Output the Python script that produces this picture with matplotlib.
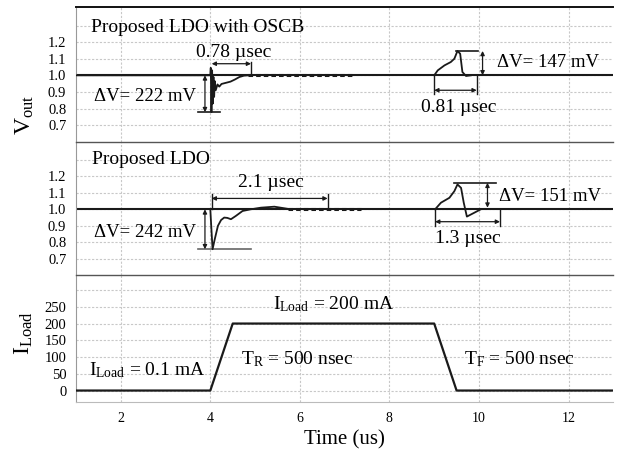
import matplotlib
matplotlib.use('Agg')
import matplotlib.pyplot as plt

plt.rcParams['font.family'] = 'Liberation Serif'
plt.rcParams['mathtext.fontset'] = 'custom'
plt.rcParams['mathtext.rm'] = 'Liberation Serif'
plt.rcParams['mathtext.it'] = 'Liberation Serif:italic'

# ---- data ----
v_nom = 1.0
t_range = (1.0, 13.0)

# proposed LDO with OSCB, load step up (t = 4 us)
oscb_up_t = [1.0, 4.0, 4.01, 4.025, 4.04, 4.055, 4.07, 4.085, 4.10, 4.12, 4.16,
             4.2, 4.25, 4.35, 4.45, 4.55, 4.65, 4.75, 4.85]
oscb_up_v = [1.0, 1.0, 1.045, 0.778, 1.03, 0.83, 0.99, 0.87, 0.965, 0.91, 0.945,
             0.932, 0.948, 0.955, 0.962, 0.975, 0.99, 0.998, 1.0]
oscb_settle_t = [4.85, 7.2]
# load step down (t = 9 us)
oscb_dn_t = [9.0, 9.08, 9.23, 9.37, 9.45, 9.52, 9.58, 9.63, 9.71, 9.82]
oscb_dn_v = [1.0, 1.03, 1.06, 1.08, 1.10, 1.147, 1.13, 1.02, 0.996, 1.0]

# proposed LDO, load step up
ldo_up_t = [4.0, 4.02, 4.05, 4.1, 4.17, 4.24, 4.31, 4.38, 4.46, 4.57, 4.72,
            4.9, 5.13, 5.43, 5.73]
ldo_up_v = [1.0, 0.90, 0.758, 0.82, 0.90, 0.935, 0.95, 0.948, 0.94, 0.96, 0.99,
            1.0, 1.01, 1.016, 1.003]
ldo_settle_t = [5.73, 7.37]
ldo_dn_t = [9.02, 9.15, 9.34, 9.45, 9.52, 9.6, 9.66, 9.73, 9.9, 10.04]
ldo_dn_v = [1.0, 1.04, 1.07, 1.11, 1.151, 1.13, 1.04, 0.956, 0.98, 1.0]

# load current
iload_t = [1.0, 4.0, 4.5, 9.0, 9.5, 13.0]
iload_ma = [0.1, 0.1, 200, 200, 0.1, 0.1]

dv_oscb_up = 0.222
dv_oscb_dn = 0.147
dv_ldo_up = 0.242
dv_ldo_dn = 0.151

v_ticks = [0.7, 0.8, 0.9, 1.0, 1.1, 1.2]
v_grid = [0.7, 0.8, 0.9, 1.0, 1.1, 1.2, 1.3]
i_ticks = [0, 50, 100, 150, 200, 250]
i_grid = [0, 50, 100, 150, 200, 250, 300]
t_ticks = [2, 4, 6, 8, 10, 12]

# ---- figure ----
W, H = 620, 457
fig = plt.figure(figsize=(W / 100, H / 100), dpi=100)


def px_axes(top, bottom, left=76, right=613.3):
    return fig.add_axes([left / W, 1 - bottom / H, (right - left) / W, (bottom - top) / H])


ax1 = px_axes(7.3, 141.7)
ax2 = px_axes(141.7, 275.3)
ax3 = px_axes(275.3, 402.3)

line_c = '#1a1a1a'
grid_c = '#c8c8c8'
fs = 14      # annotation text
fs_dv = 13.5
arr = dict(arrowstyle='<|-|>', mutation_scale=6, lw=0.9, color=line_c,
           shrinkA=0, shrinkB=0)

for ax in (ax1, ax2, ax3):
    ax.set_xlim(*t_range)
    ax.set_xticks(t_ticks)
    ax.tick_params(length=0, labelsize=10.5, pad=7)
    ax.tick_params(axis='x', labelsize=10)
    for t in t_ticks:
        ax.axvline(t, color=grid_c, lw=0.8, ls=(0, (2, 1.5)), zorder=0)
    ax.spines['right'].set_visible(False)
    ax.spines['left'].set_color('#999999')
    ax.spines['bottom'].set_visible(False)
    ax.spines['top'].set_color('#555555')
    ax.spines['top'].set_linewidth(1.0)
ax1.spines['top'].set_color('#111111')
ax1.spines['top'].set_linewidth(1.4)
ax3.spines['bottom'].set_visible(True)
ax3.spines['bottom'].set_color('#bbbbbb')

for ax in (ax1, ax2):
    ax.set_ylim(0.6, 1.41)
    ax.set_yticks(v_ticks)
    ax.set_yticklabels(['%.1f' % v for v in v_ticks])
    for v in v_grid:
        ax.axhline(v, color=grid_c, lw=0.8, ls=(0, (2, 1.5)), zorder=0)
    ax.axhline(v_nom, color=line_c, lw=1.5, zorder=2)
    ax.tick_params(axis='x', labelbottom=False)

# top panel
ax1.plot(oscb_up_t, oscb_up_v, color=line_c, lw=1.3, zorder=3)
ax1.plot(oscb_settle_t, [v_nom, v_nom], color=line_c, lw=2.2, ls=(0, (1.5, 1)), zorder=3)
ax1.plot(oscb_dn_t, oscb_dn_v, color=line_c, lw=1.3, zorder=3)
ax1.text(1.33, 1.29, 'Proposed LDO with OSCB', fontsize=fs, va='center')
ax1.plot([3.72, 4.22], [v_nom - dv_oscb_up] * 2, color=line_c, lw=1.2)
ax1.annotate('', xy=(3.88, v_nom - dv_oscb_up), xytext=(3.88, v_nom), arrowprops=arr)
ax1.text(3.68, 0.87, u'\u0394V= 222 mV', fontsize=fs_dv, ha='right', va='center')
ax1.plot([4.91, 4.91], [v_nom, 1.082], color=line_c, lw=1.0)
ax1.annotate('', xy=(4.03, 1.07), xytext=(4.91, 1.07), arrowprops=arr)
ax1.text(4.52, 1.14, u'0.78 \u00b5sec', fontsize=fs, ha='center', va='center')
ax1.plot([9.49, 9.97], [v_nom + dv_oscb_dn] * 2, color=line_c, lw=1.2)
ax1.annotate('', xy=(10.08, v_nom + dv_oscb_dn), xytext=(10.08, v_nom), arrowprops=arr)
ax1.text(10.4, 1.075, u'\u0394V= 147 mV', fontsize=fs_dv, va='center')
for t in (9.0, 9.95):
    ax1.plot([t, t], [v_nom, 0.885], color=line_c, lw=1.0)
ax1.annotate('', xy=(9.0, 0.91), xytext=(9.95, 0.91), arrowprops=arr)
ax1.text(9.55, 0.805, u'0.81 \u00b5sec', fontsize=fs, ha='center', va='center')

# middle panel
ax2.plot(ldo_up_t, ldo_up_v, color=line_c, lw=1.3, zorder=3)
ax2.plot(ldo_settle_t, [v_nom, v_nom], color=line_c, lw=2.2, ls=(0, (1.5, 1)), zorder=3)
ax2.plot(ldo_dn_t, ldo_dn_v, color=line_c, lw=1.3, zorder=3)
ax2.text(1.35, 1.30, 'Proposed LDO', fontsize=fs, va='center')
ax2.plot([3.72, 4.91], [v_nom - dv_ldo_up] * 2, color='#666666', lw=1.2)
ax2.annotate('', xy=(3.88, v_nom - dv_ldo_up), xytext=(3.88, v_nom), arrowprops=arr)
ax2.text(3.68, 0.86, u'\u0394V= 242 mV', fontsize=fs_dv, ha='right', va='center')
for t in (4.03, 6.62):
    ax2.plot([t, t], [v_nom, 1.09], color=line_c, lw=1.0)
ax2.annotate('', xy=(4.03, 1.066), xytext=(6.62, 1.066), arrowprops=arr)
ax2.text(5.35, 1.11, u'2.1 \u00b5sec', fontsize=fs, ha='center', va='bottom')
ax2.plot([9.45, 10.38], [v_nom + dv_ldo_dn + 0.01] * 2, color=line_c, lw=1.2)
ax2.annotate('', xy=(10.19, v_nom + dv_ldo_dn + 0.01), xytext=(10.19, v_nom + 0.01),
             arrowprops=arr)
ax2.text(10.44, 1.08, u'\u0394V= 151 mV', fontsize=fs_dv, va='center')
for t in (9.02, 10.47):
    ax2.plot([t, t], [v_nom, 0.9], color=line_c, lw=1.0)
ax2.annotate('', xy=(9.02, 0.925), xytext=(10.47, 0.925), arrowprops=arr)
ax2.text(9.75, 0.825, u'1.3 \u00b5sec', fontsize=fs, ha='center', va='center')

# bottom panel
ax3.set_ylim(-35, 344)
ax3.set_yticks(i_ticks)
for v in i_grid:
    ax3.axhline(v, color=grid_c, lw=0.8, ls=(0, (2, 1.5)), zorder=0)
ax3.plot(iload_t, iload_ma, color=line_c, lw=1.6, zorder=3)
ax3.text(1.28, 62, r'I$_{\mathrm{Load}}$ = 0.1 mA', fontsize=fs, va='center')
ax3.text(4.69, 93, r'T$_{\mathrm{R}}$ = 500 nsec', fontsize=fs, va='center')
ax3.text(5.39, 258, r'I$_{\mathrm{Load}}$ = 200 mA', fontsize=fs, va='center')
ax3.text(9.67, 93, r'T$_{\mathrm{F}}$ = 500 nsec', fontsize=fs, va='center')
ax3.set_xlabel('Time (us)', fontsize=15, labelpad=4)

fig.text(25 / W, 1 - 115 / H, r'V$_{\mathrm{out}}$', fontsize=17, rotation=90,
         ha='center', va='center')
fig.text(24 / W, 1 - 333 / H, r'I$_{\mathrm{Load}}$', fontsize=17, rotation=90,
         ha='center', va='center')

fig.savefig('out.png', dpi=100)
